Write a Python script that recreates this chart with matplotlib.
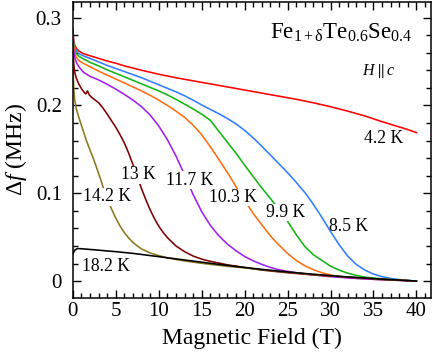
import matplotlib
matplotlib.use('Agg')
import matplotlib.pyplot as plt
from matplotlib.ticker import MultipleLocator

plt.rcParams['font.family'] = 'Liberation Serif'
plt.rcParams['mathtext.fontset'] = 'custom'
plt.rcParams['mathtext.rm'] = 'Liberation Serif'
plt.rcParams['mathtext.it'] = 'Liberation Serif:italic'

# frequency shift curves (field in T, shift in MHz)
x_42 = [0, 0.05, 0.1, 0.2, 0.4, 0.7, 1.2, 2, 3, 4, 5, 6, 7, 8, 10, 12, 14, 16, 18, 20,
        22, 24, 26, 28, 30, 32, 34, 36, 38, 39, 40]
y_42 = [0.287, 0.279, 0.274, 0.269, 0.265, 0.262, 0.259, 0.2565, 0.2535, 0.2505, 0.248, 0.245,
        0.2425, 0.240, 0.2355, 0.2315, 0.228, 0.2245, 0.221, 0.2175, 0.214, 0.2105, 0.207, 0.203,
        0.1985, 0.1935, 0.188, 0.1815, 0.1755, 0.1725, 0.169]

x_85 = [0, 0.05, 0.1, 0.2, 0.4, 0.7, 1.2, 2, 3, 4, 5, 6, 7, 8, 9, 10, 11, 12, 13, 14, 15, 16,
        17, 18, 19, 20, 21, 22, 23, 24, 25, 26, 27, 28, 29, 30, 31, 32, 33, 34, 35, 36, 37, 38,
        39, 40]
y_85 = [0.282, 0.276, 0.271, 0.266, 0.262, 0.259, 0.2565, 0.2535, 0.2495, 0.2455, 0.242, 0.2385,
        0.235, 0.2315, 0.2275, 0.2235, 0.2195, 0.2155, 0.211, 0.206, 0.2005, 0.1955, 0.1905, 0.185,
        0.179, 0.1715, 0.163, 0.1535, 0.1435, 0.1335, 0.1235, 0.1125, 0.101, 0.0875, 0.0725,
        0.0565, 0.0415, 0.0285, 0.019, 0.0125, 0.008, 0.005, 0.003, 0.0017, 0.0008, 0.0]

x_99 = [0, 0.05, 0.1, 0.2, 0.4, 0.7, 1.2, 2, 3, 4, 5, 6, 7, 8, 9, 10, 11, 12, 13, 14, 15, 16,
        17, 18, 19, 20, 21, 22, 23, 24, 25, 26, 27, 28, 29, 30, 31, 32, 33, 34, 36, 38, 40]
y_99 = [0.280, 0.274, 0.269, 0.264, 0.259, 0.256, 0.253, 0.249, 0.245, 0.2405, 0.2365, 0.2325,
        0.2285, 0.2245, 0.2205, 0.2165, 0.212, 0.207, 0.2015, 0.196, 0.190, 0.183, 0.1705, 0.158,
        0.1455, 0.132, 0.119, 0.106, 0.094, 0.0815, 0.068, 0.053, 0.0395, 0.030, 0.0235, 0.017,
        0.0125, 0.009, 0.0065, 0.0045, 0.0025, 0.0012, 0.0]

x_103 = [0, 0.05, 0.1, 0.2, 0.4, 0.7, 1.2, 2, 3, 4, 5, 6, 7, 8, 9, 10, 11, 12, 13, 14, 15, 16,
         17, 18, 19, 20, 21, 22, 23, 24, 25, 26, 27, 28, 29, 30, 31, 32, 34, 36, 38, 40]
y_103 = [0.278, 0.271, 0.266, 0.260, 0.255, 0.251, 0.248, 0.244, 0.239, 0.2345, 0.230, 0.2255,
         0.221, 0.2165, 0.2115, 0.206, 0.200, 0.1935, 0.1865, 0.1775, 0.1665, 0.153, 0.1385,
         0.1235, 0.1075, 0.0915, 0.077, 0.064, 0.0515, 0.041, 0.0315, 0.0235, 0.0175, 0.013,
         0.0095, 0.007, 0.005, 0.0038, 0.0025, 0.0015, 0.0008, 0.0]

x_117 = [0, 0.05, 0.1, 0.2, 0.4, 0.7, 1.2, 2, 3, 4, 5, 6, 7, 8, 9, 10, 11, 12, 13, 14, 15, 16,
         17, 18, 19, 20, 21, 22, 23, 24, 26, 28, 30, 33, 36, 40]
y_117 = [0.272, 0.266, 0.261, 0.255, 0.249, 0.244, 0.238, 0.233, 0.229, 0.224, 0.2185, 0.2125,
         0.206, 0.1985, 0.189, 0.1765, 0.161, 0.1425, 0.121, 0.0985, 0.079, 0.0635, 0.0515, 0.042,
         0.0345, 0.028, 0.023, 0.019, 0.0155, 0.0128, 0.0095, 0.007, 0.005, 0.003, 0.0015, 0.0]

x_13 = [0, 0.05, 0.1, 0.2, 0.4, 0.7, 1.0, 1.3, 1.5, 1.7, 1.9, 2.2, 2.6, 3, 3.5, 4, 4.5, 5, 5.5,
        6, 6.5, 7, 7.5, 8, 8.5, 9, 9.5, 10, 10.5, 11, 12, 13, 14, 15, 16, 17, 18, 20, 22, 25, 28,
        32, 36, 40]
y_13 = [0.265, 0.255, 0.247, 0.238, 0.231, 0.224, 0.219, 0.215, 0.213, 0.2165, 0.212, 0.209,
        0.206, 0.203, 0.197, 0.190, 0.1825, 0.175, 0.1665, 0.157, 0.1455, 0.1325, 0.1185, 0.105,
        0.0925, 0.081, 0.071, 0.0625, 0.0555, 0.0495, 0.040, 0.0335, 0.0285, 0.025, 0.0225,
        0.0205, 0.0185, 0.0155, 0.0125, 0.0095, 0.007, 0.0045, 0.002, 0.0]

x_142 = [0, 0.05, 0.1, 0.2, 0.4, 0.7, 1.0, 1.3, 1.6, 2, 2.4, 2.8, 3.2, 3.6, 4, 4.5, 5, 5.5, 6,
         6.5, 7, 7.5, 8, 9, 10, 11, 12, 14, 16, 18, 20, 24, 28, 32, 36, 40]
y_142 = [0.248, 0.232, 0.219, 0.207, 0.196, 0.186, 0.177, 0.168, 0.159, 0.149, 0.139, 0.128,
         0.1165, 0.1045, 0.0935, 0.082, 0.0715, 0.0625, 0.055, 0.049, 0.044, 0.040, 0.0365, 0.032,
         0.029, 0.0265, 0.0245, 0.0215, 0.019, 0.0168, 0.015, 0.011, 0.0075, 0.0045, 0.002, 0.0]

x_182 = [0, 0.2, 0.5, 1, 2, 3, 4, 5, 6, 7, 8, 9, 10, 11, 12, 13, 14, 15, 16, 17, 18, 19, 20,
         22, 24, 26, 28, 30, 32, 34, 36, 38, 40]
y_182 = [0.031, 0.035, 0.037, 0.0368, 0.036, 0.0352, 0.0343, 0.0335, 0.0325, 0.0315, 0.0303,
         0.029, 0.0278, 0.0265, 0.0253, 0.024, 0.0228, 0.0215, 0.0203, 0.019, 0.0178, 0.0166,
         0.0155, 0.0133, 0.0113, 0.0095, 0.0078, 0.0062, 0.0047, 0.0034, 0.0022, 0.0011, 0.0]

fig = plt.figure(figsize=(4.34, 3.55), dpi=100)
ax = fig.add_axes([0.168, 0.160, 0.825, 0.835])

lw = 1.15
ax.plot(x_42, y_42, color='#ff0000', lw=lw)
ax.plot(x_85, y_85, color='#327dff', lw=lw)
ax.plot(x_99, y_99, color='#14b414', lw=lw)
ax.plot(x_103, y_103, color='#ff6e14', lw=lw)
ax.plot(x_117, y_117, color='#a020f0', lw=lw)
ax.plot(x_13, y_13, color='#800000', lw=lw)
ax.plot(x_142, y_142, color='#8c781e', lw=lw)
ax.plot(x_182, y_182, color='black', lw=lw)

# temperature labels (white box cuts the curve like the original)
box = dict(facecolor='white', edgecolor='none', pad=0.3)
fs = 12.7
ax.text(36.2, 0.162, '4.2 K', fontsize=fs, ha='center', va='center')
ax.text(32.05, 0.062, '8.5 K', fontsize=fs, ha='center', va='center')
ax.text(24.8, 0.078, '9.9 K', fontsize=fs, ha='center', va='center', bbox=box)
ax.text(18.6, 0.095, '10.3 K', fontsize=fs, ha='center', va='center', bbox=box)
ax.text(13.64, 0.115, '11.7 K', fontsize=fs, ha='center', va='center', bbox=box)
ax.text(7.6, 0.121, '13 K', fontsize=fs, ha='center', va='center', bbox=box)
ax.text(3.96, 0.096, '14.2 K', fontsize=fs, ha='center', va='center', bbox=box)
ax.text(3.88, 0.0163, '18.2 K', fontsize=fs, ha='center', va='center')

ax.text(39.5, 0.276, r'Fe$_{\mathrm{1+\delta}}$Te$_{\mathrm{0.6}}$Se$_{\mathrm{0.4}}$',
        fontsize=16.5, ha='right', va='baseline')
ax.text(35.6, 0.2346, r'$H \parallel c$', fontsize=11.5, ha='center', va='baseline')

ax.set_xlim(0, 41.7)
ax.set_ylim(-0.0195, 0.318)
ax.xaxis.set_major_locator(MultipleLocator(5))
ax.xaxis.set_minor_locator(MultipleLocator(1))
ax.yaxis.set_minor_locator(MultipleLocator(0.02))
ax.set_yticks([0, 0.1, 0.2, 0.3])
ax.set_yticklabels(['0', '0.1', '0.2', '0.3'])

ax.tick_params(which='both', direction='in', top=True, right=True, width=1, labelsize=15)
ax.tick_params(which='major', length=5.8)
ax.tick_params(which='minor', length=3.6)
ax.tick_params(axis='x', pad=3)
ax.tick_params(axis='y', pad=8)
for s in ax.spines.values():
    s.set_linewidth(1.1)

ax.set_xlabel('Magnetic Field (T)', fontsize=17, labelpad=5)
ax.set_ylabel(r'$\Delta f$ (MHz)', fontsize=17, labelpad=5)

plt.savefig('out.png', dpi=100)
